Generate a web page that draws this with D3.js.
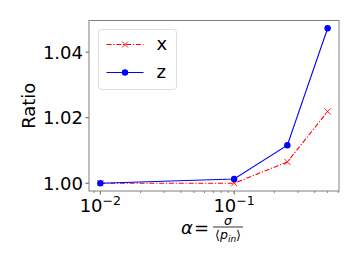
<!DOCTYPE html>
<html>
<head>
<meta charset="utf-8">
<script src="https://cdn.jsdelivr.net/npm/d3@7"></script>
<style>
  body { margin: 0; background: #fff; }
  svg { font-family: "DejaVu Sans", sans-serif; }
</style>
</head>
<body>
<svg id="chart"></svg>
<script>
const alphas = [0.01, 0.1, 0.25, 0.5];
const ratioX = [1.0000, 1.0000, 1.0065, 1.0219];
const ratioZ = [1.0000, 1.0013, 1.0116, 1.0473];
const yTicks = [1.00, 1.02, 1.04];
const xTicks = [0.01, 0.1];

const W = 359, H = 269;
const margin = { top: 20.5, right: 20, bottom: 78, left: 89 };
const width = W - margin.left - margin.right;
const height = H - margin.top - margin.bottom;

const svg = d3.select("#chart").attr("width", W).attr("height", H);
const g = svg.append("g")
  .attr("transform", "translate(" + margin.left + "," + margin.top + ")");

// matplotlib-like 5% margins
const lx = [Math.log10(0.01), Math.log10(0.5)];
const px = (lx[1] - lx[0]) * 0.05;
const x = d3.scaleLog()
  .domain([Math.pow(10, lx[0] - px), Math.pow(10, lx[1] + px)])
  .range([0, width]);

const yMin = 1.0, yMax = d3.max(ratioZ);
const py = (yMax - yMin) * 0.05;
const y = d3.scaleLinear()
  .domain([yMin - py, yMax + py])
  .range([height, 0]);

// minor ticks
const minor = [];
[0.001, 0.01, 0.1].forEach(b => {
  for (let k = 2; k <= 9; k++) minor.push(b * k);
});
const minorIn = minor.filter(v => v >= x.domain()[0] && v <= x.domain()[1] && xTicks.indexOf(v) < 0);

g.selectAll(".minor").data(minorIn).enter().append("line")
  .attr("x1", d => x(d)).attr("x2", d => x(d))
  .attr("y1", height).attr("y2", height + 2)
  .attr("stroke", "#333").attr("stroke-width", 0.6);

g.selectAll(".xmajor").data(xTicks).enter().append("line")
  .attr("x1", d => x(d)).attr("x2", d => x(d))
  .attr("y1", height).attr("y2", height + 3.5)
  .attr("stroke", "#333").attr("stroke-width", 0.8);

const xl = g.selectAll(".xlab").data(xTicks).enter().append("text")
  .attr("x", d => x(d))
  .attr("y", height + 20.5)
  .attr("text-anchor", "middle")
  .attr("font-size", 18)
  .attr("fill", "#000");
xl.append("tspan").text("10");
xl.append("tspan").attr("dy", -7).attr("font-size", 12.6)
  .text(d => "\u2212" + Math.round(-Math.log10(d)));

g.selectAll(".ymajor").data(yTicks).enter().append("line")
  .attr("x1", -3.5).attr("x2", 0)
  .attr("y1", d => y(d)).attr("y2", d => y(d))
  .attr("stroke", "#333").attr("stroke-width", 0.8);

g.selectAll(".ylab").data(yTicks).enter().append("text")
  .attr("x", -6)
  .attr("y", d => y(d))
  .attr("dy", "0.36em")
  .attr("text-anchor", "end")
  .attr("font-size", 18)
  .attr("fill", "#000")
  .text(d => d.toFixed(2));

// series
const lineX = d3.line().x((d, i) => x(alphas[i])).y(d => y(d));

g.append("path").datum(ratioX)
  .attr("d", lineX)
  .attr("fill", "none")
  .attr("stroke", "#ff0000")
  .attr("stroke-width", 1.1)
  .attr("stroke-dasharray", "5,1.8,1.2,1.8");

const mk = 3;
g.selectAll(".mx").data(ratioX).enter().append("path")
  .attr("d", (d, i) => {
    const cx = x(alphas[i]), cy = y(d);
    return "M" + (cx - mk) + "," + (cy - mk) + "L" + (cx + mk) + "," + (cy + mk) +
      "M" + (cx - mk) + "," + (cy + mk) + "L" + (cx + mk) + "," + (cy - mk);
  })
  .attr("stroke", "#ff0000").attr("stroke-width", 0.9).attr("fill", "none");

g.append("path").datum(ratioZ)
  .attr("d", lineX)
  .attr("fill", "none")
  .attr("stroke", "#0000ff")
  .attr("stroke-width", 1.1);

g.selectAll(".mz").data(ratioZ).enter().append("circle")
  .attr("cx", (d, i) => x(alphas[i]))
  .attr("cy", d => y(d))
  .attr("r", 3.2)
  .attr("fill", "#0000ff");

// frame
g.append("rect")
  .attr("width", width).attr("height", height)
  .attr("fill", "none")
  .attr("stroke", "#808080").attr("stroke-width", 1);

// legend
const leg = g.append("g").attr("transform", "translate(9.5,9)");
leg.append("rect")
  .attr("width", 78).attr("height", 60).attr("rx", 3)
  .attr("fill", "#fff").attr("fill-opacity", 0.8)
  .attr("stroke", "#d9d9d9").attr("stroke-width", 0.9);

const legItems = [
  { name: "x", color: "#ff0000", dash: "5,1.8,1.2,1.8", mark: "x" },
  { name: "z", color: "#0000ff", dash: null, mark: "o" }
];
legItems.forEach((it, i) => {
  const cy = 15 + i * 28;
  leg.append("line")
    .attr("x1", 8).attr("x2", 45).attr("y1", cy).attr("y2", cy)
    .attr("stroke", it.color).attr("stroke-width", 1.1)
    .attr("stroke-dasharray", it.dash);
  if (it.mark === "x") {
    leg.append("path")
      .attr("d", "M" + (26.5 - mk) + "," + (cy - mk) + "L" + (26.5 + mk) + "," + (cy + mk) +
        "M" + (26.5 - mk) + "," + (cy + mk) + "L" + (26.5 + mk) + "," + (cy - mk))
      .attr("stroke", it.color).attr("stroke-width", 0.9);
  } else {
    leg.append("circle").attr("cx", 26.5).attr("cy", cy).attr("r", 3.2).attr("fill", it.color);
  }
  leg.append("text")
    .attr("x", 58).attr("y", cy).attr("dy", "0.3em")
    .attr("font-size", 18).attr("fill", "#000")
    .text(it.name);
});

// y label
svg.append("text")
  .attr("transform", "translate(35," + (margin.top + height / 2) + ") rotate(-90)")
  .attr("text-anchor", "middle")
  .attr("font-size", 18)
  .attr("fill", "#000")
  .text("Ratio");

// x label: alpha = sigma / <p_in>
const xlab = svg.append("g");
xlab.append("text")
  .attr("x", 181).attr("y", 234)
  .attr("font-size", 18).attr("font-style", "italic").attr("fill", "#000")
  .text("\u03b1");
xlab.append("text")
  .attr("x", 194).attr("y", 234)
  .attr("font-size", 18).attr("fill", "#000")
  .text("=");
xlab.append("line")
  .attr("x1", 213).attr("x2", 243).attr("y1", 227).attr("y2", 227)
  .attr("stroke", "#000").attr("stroke-width", 0.8);
xlab.append("text")
  .attr("x", 228).attr("y", 224.5).attr("text-anchor", "middle")
  .attr("font-size", 12.6).attr("font-style", "italic").attr("fill", "#000")
  .text("\u03c3");
const den = xlab.append("text")
  .attr("x", 228).attr("y", 239).attr("text-anchor", "middle")
  .attr("font-size", 12.6).attr("fill", "#000");
den.append("tspan").text("\u27e8");
den.append("tspan").attr("font-style", "italic").text("p");
den.append("tspan").attr("font-style", "italic").attr("font-size", 9).attr("dy", 2.5).text("in");
den.append("tspan").attr("dy", -2.5).text("\u27e9");
</script>
</body>
</html>
